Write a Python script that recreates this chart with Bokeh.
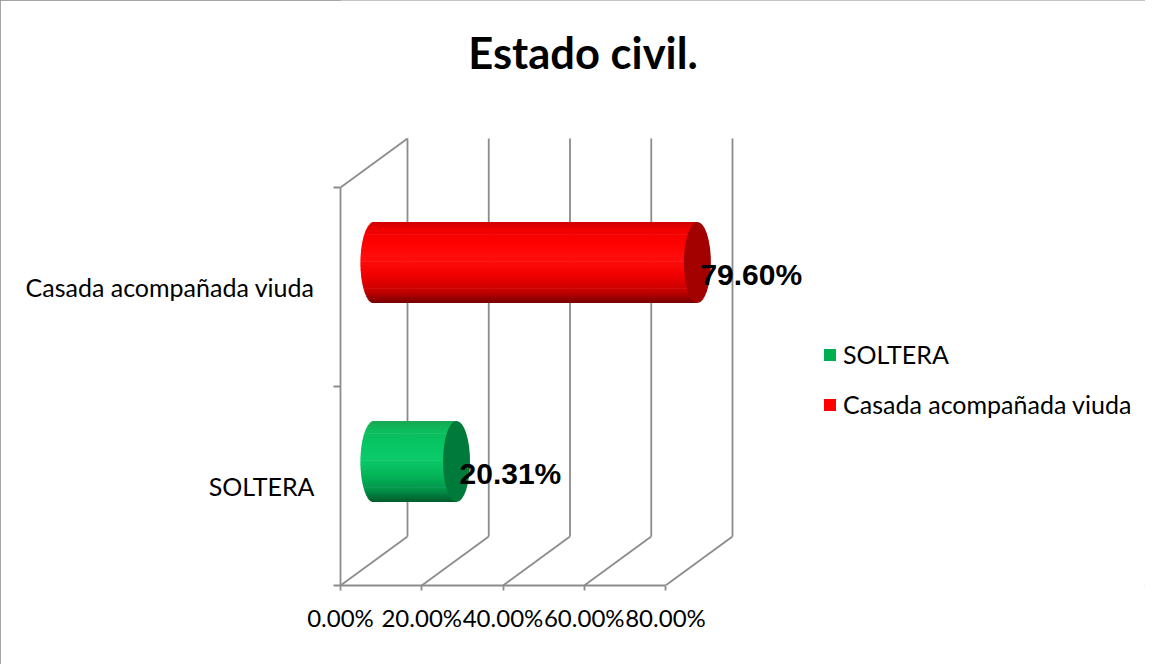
import numpy as np
from bokeh.plotting import figure
from bokeh.models import (Range1d, FixedTicker, NumeralTickFormatter, Legend, LegendItem,
                          Label, LinearAxis)
from bokeh.core.properties import value
from bokeh.embed import file_html
from bokeh.resources import INLINE

# ---------------- data ----------------
categories = ["SOLTERA", "Casada acompañada viuda"]
values = [0.2031, 0.7960]
legend_colors = ["#00b050", "#ff0000"]
x_ticks = [0.0, 0.2, 0.4, 0.6, 0.8]
title_text = "Estado civil."

# gradient stops (s = +1 top edge ... -1 bottom edge) for each cylinder
grad_s = [1.0, 0.8, 0.5, 0.1, -0.3, -0.7, -1.0]
grad_green = ["#18a850", "#0fba5c", "#06c462", "#0ccb6a", "#05b75a", "#02944a", "#005a2a"]
grad_red = ["#cc0000", "#f00000", "#ff0000", "#ff0e0e", "#f20000", "#c60000", "#780000"]
gradients = [grad_green, grad_red]
cap_colors = ["#007a3a", "#a30000"]

# ---------------- layout / style ----------------
W, H = 1145, 664
frame_left = 340
frame_bottom = 585
px_per_x = 406.25
px_per_y = 199.0
frame_w = W - frame_left
x_end = frame_w / px_per_x
y_end = frame_bottom / px_per_y
dx = 67 / px_per_x
dy = 49 / px_per_y
bar_h = 81 / px_per_y
cap_a = 13.5 / px_per_x
overlap = 0.7 / px_per_y
grid_color = "#8c8c8c"
grid_w = 1.8
n = len(categories)

p = figure(width=W, height=H, x_range=Range1d(0, x_end), y_range=Range1d(0, y_end),
           output_backend="svg", toolbar_location=None, x_axis_type=None, y_axis_type=None)
p.min_border = 0
p.min_border_left = frame_left
p.min_border_bottom = H - frame_bottom
p.min_border_top = 0
p.min_border_right = 0
p.outline_line_color = None
p.background_fill_color = "white"
p.border_fill_color = "white"
p.stylesheets = [":host { outline: 1px solid #898989; outline-offset: -1px; }"]

# axes
xaxis = LinearAxis(ticker=FixedTicker(ticks=x_ticks, minor_ticks=[]),
                   formatter=NumeralTickFormatter(format="0.00%"),
                   bounds=(x_ticks[0], x_ticks[-1]))
xaxis.axis_line_color = grid_color
xaxis.axis_line_width = grid_w
xaxis.major_tick_line_color = grid_color
xaxis.major_tick_line_width = grid_w
xaxis.major_tick_out = 5
xaxis.major_tick_in = 0
xaxis.minor_tick_line_color = None
xaxis.major_label_text_font = "Lato"
xaxis.major_label_text_font_size = "24px"
xaxis.major_label_text_color = "#000000"
xaxis.major_label_standoff = 12
p.add_layout(xaxis, "below")

cat_ticks = [i + 0.5 for i in range(n)]
yaxis = LinearAxis(ticker=FixedTicker(ticks=cat_ticks, minor_ticks=list(range(n + 1))),
                   bounds=(0, n))
yaxis.major_label_overrides = {t: c for t, c in zip(cat_ticks, categories)}
yaxis.axis_line_color = grid_color
yaxis.axis_line_width = grid_w
yaxis.major_tick_line_color = None
yaxis.major_tick_out = 0
yaxis.major_tick_in = 0
yaxis.minor_tick_line_color = grid_color
yaxis.minor_tick_line_width = grid_w
yaxis.minor_tick_out = 7
yaxis.minor_tick_in = 0
yaxis.major_label_text_font = "Lato"
yaxis.major_label_text_font_size = "25px"
yaxis.major_label_text_color = "#000000"
yaxis.major_label_standoff = 19
p.add_layout(yaxis, "left")

# 3-D walls
back_x = [v + dx for v in x_ticks]
p.segment(x0=back_x, y0=[dy] * len(x_ticks), x1=back_x, y1=[n + dy] * len(x_ticks),
          line_color=grid_color, line_width=grid_w)
p.segment(x0=x_ticks, y0=[0] * len(x_ticks), x1=back_x, y1=[dy] * len(x_ticks),
          line_color=grid_color, line_width=grid_w)
p.segment(x0=[x_ticks[0]], y0=[n], x1=[x_ticks[0] + dx], y1=[n + dy],
          line_color=grid_color, line_width=grid_w)

# cylinders
def interp_color(s, stops, cols):
    ss = np.array(stops[::-1])
    rgb = np.array([[int(c[i:i + 2], 16) for i in (1, 3, 5)] for c in cols[::-1]], float)
    r = [np.interp(s, ss, rgb[:, k]) for k in range(3)]
    return "#%02x%02x%02x" % tuple(int(round(v)) for v in r)

N = 60
legend_items = []
for i, (v, grad) in enumerate(zip(values, gradients)):
    yc = i + 0.5 + dy / 2
    x0 = x_ticks[0] + dx / 2
    x1 = v + dx / 2
    k = np.arange(N)
    s_mid = 1 - (2 * k + 1) / N
    tops = yc + bar_h / 2 * (1 - 2 * k / N)
    bots = yc + bar_h / 2 * (1 - 2 * (k + 1) / N) - overlap
    bots[-1] = yc - bar_h / 2
    lefts = x0 - cap_a * np.sqrt(np.clip(1 - s_mid ** 2, 0, 1))
    cols = [interp_color(s, grad_s, grad) for s in s_mid]
    # extra zero-height entry carrying the legend swatch colour
    lefts = list(lefts) + [x1]
    rights = [x1] * N + [x1]
    tops = list(tops) + [yc]
    bots = list(bots) + [yc]
    cols = cols + [legend_colors[i]]
    r = p.quad(left=lefts, right=rights, top=tops, bottom=bots,
               fill_color=cols, line_color=None)
    legend_items.append(LegendItem(label=categories[i], renderers=[r], index=N))
    p.ellipse(x=[x1], y=[yc], width=[2 * cap_a], height=[bar_h],
              fill_color=cap_colors[i], line_color=None)
    p.text(x=[x1], y=[yc], text=["%.2f%%" % (v * 100)],
           text_font=value("Liberation Sans"), text_font_style="bold",
           text_font_size="30px", text_color="#000000",
           text_align="left", text_baseline="middle", x_offset=3, y_offset=11.5)

legend = Legend(items=legend_items, location=(482, 166), glyph_width=15, glyph_height=15,
                label_standoff=6, spacing=20, padding=0, margin=0,
                border_line_color=None, background_fill_alpha=0,
                label_text_font="Lato", label_text_font_size="25px",
                label_text_color="#000000")
p.add_layout(legend)

title = Label(x=0.597, y=2.683, text=title_text, text_align="center",
              text_baseline="alphabetic", text_font="Lato", text_font_style="bold",
              text_font_size="43.5px", text_color="#000000")
p.add_layout(title)

open("out.html", "w").write(file_html(p, INLINE))
